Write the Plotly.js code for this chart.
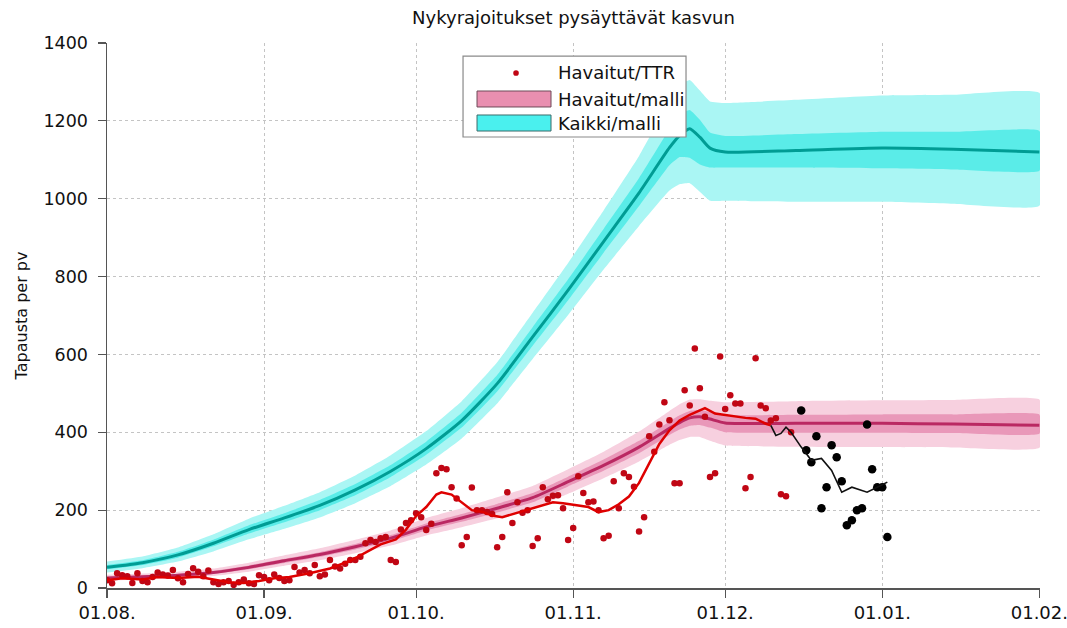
<!DOCTYPE html>
<html><head><meta charset="utf-8">
<script src="https://cdn.plot.ly/plotly-3.0.1.min.js"></script>
<style>html,body{margin:0;padding:0;background:#fff}#chart{width:1067px;height:628px}</style>
</head><body><div id="chart"></div>
<script>
// ---------- model knots ----------
const modelDates = ['2020-08-01','2020-08-08','2020-08-15','2020-08-22','2020-08-29','2020-09-05','2020-09-12','2020-09-19','2020-09-26','2020-10-03','2020-10-10','2020-10-17','2020-10-24','2020-10-31','2020-11-07','2020-11-14','2020-11-20','2020-11-22','2020-11-24','2020-11-26','2020-11-28','2020-12-01','2020-12-15','2021-01-01','2021-01-15','2021-02-01'];

// Kaikki/malli (all cases, model)
const allCenter = [53,65,85,115,150,180,212,252,300,358,430,525,645,765,890,1015,1131,1162,1180,1158,1130,1120,1124,1130,1127,1120];
const allInHi   = [59,71,93,124,161,192,226,267,316,376,450,547,670,793,922,1053,1179,1217,1228,1203,1170,1161,1166,1172,1172,1174];
const allInLo   = [48,59,78,107,140,169,200,238,285,342,412,505,622,739,861,981,1086,1107,1105,1088,1080,1080,1080,1078,1075,1072];
const allOutHi  = [68,81,104,138,178,211,246,289,341,403,480,580,707,835,970,1110,1251,1292,1305,1278,1250,1246,1254,1265,1267,1272];
const allOutLo  = [40,51,68,94,125,152,181,218,262,317,384,474,588,701,818,930,1021,1037,1040,1018,995,995,992,992,987,982];

// Havaitut/malli (observed cases, model)
const obsCenter = [26,29,33,40,53,70,86,106,128,157,180,205,232,273,315,362,410,425,437,440,434,424,423,423,421,418];
const obsInHi   = [29,32,36,44,58,75,92,113,136,166,190,216,244,286,330,378,428,444,455,458,452,444,445,446,446,446];
const obsInLo   = [23,26,30,36,48,64,80,99,120,148,170,194,220,261,301,346,393,407,417,419,412,400,399,399,398,396];
const obsOutHi  = [34,37,42,50,65,84,102,124,148,180,205,233,262,305,350,402,455,472,484,485,481,477,480,482,483,484];
const obsOutLo  = [19,22,25,31,42,57,71,89,109,135,156,179,204,242,282,325,368,380,388,388,378,366,363,362,361,360];

// ---------- daily observations (Havaitut/TTR) ----------
const redStart = '2020-08-01';
const redDaily = [20,12,38,33,30,13,38, 18,15,28,40,35,32,46, 25,15,36,51,42,30,45,
  15,10,15,18,8,15,22, 12,10,33,28,20,35,26, 18,20,54,40,46,38,59, 30,35,72,55,50,62,72,
  72,80,115,123,118,128,131, 72,67,150,167,174,192,182, 149,165,295,308,305,259,230,
  110,131,258,200,200,195,190, 105,131,246,167,220,193,200, 108,128,259,228,237,238,205,
  123,154,287,244,220,222,200, 128,134,274,205,295,285,260, 145,182,390,350,420,477,431,
  269,269,508,469,615,513,440, 285,295,595,460,495,474,474, 256,285,590,469,462,430,436,
  241,236,400];
const blackStart = '2020-12-16';
const blackDaily = [456,354,323,390,205,259,367,336,274,161,174,200,205,420,305,259,259,131];

// smoothed observed lines
const redLineDates = ['2020-08-01','2020-08-04','2020-08-08','2020-08-11','2020-08-15','2020-08-19','2020-08-22','2020-08-25','2020-08-28','2020-08-31','2020-09-03','2020-09-06','2020-09-10','2020-09-14','2020-09-18','2020-09-21','2020-09-24','2020-09-27','2020-09-29','2020-10-01','2020-10-03','2020-10-05','2020-10-06','2020-10-08','2020-10-10','2020-10-12','2020-10-14','2020-10-16','2020-10-18','2020-10-20','2020-10-23','2020-10-26','2020-10-28','2020-10-30','2020-11-02','2020-11-04','2020-11-06','2020-11-08','2020-11-10','2020-11-12','2020-11-14','2020-11-16','2020-11-18','2020-11-20','2020-11-22','2020-11-24','2020-11-26','2020-11-27','2020-11-29','2020-12-01','2020-12-03','2020-12-05','2020-12-07','2020-12-09','2020-12-10'];
const redLine = [20,25,22,28,26,29,22,15,13,18,25,28,38,50,70,92,112,125,150,185,208,240,246,240,220,200,196,186,182,190,202,212,220,218,212,208,195,200,215,235,270,318,370,405,430,445,455,462,448,444,440,437,435,422,418];
const blackLineDates = ['2020-12-10','2020-12-11','2020-12-12','2020-12-13','2020-12-14','2020-12-16','2020-12-18','2020-12-20','2020-12-22','2020-12-24','2020-12-26','2020-12-29','2020-12-31','2021-01-02'];
const blackLine = [418,392,397,413,400,362,328,333,302,246,259,246,259,272];

// ---------- helpers ----------
function dailyDates(start, n){
  const t0 = new Date(start + 'T00:00:00Z').getTime();
  const out = [];
  for (let i = 0; i < n; i++) out.push(new Date(t0 + i*86400000).toISOString().slice(0,10));
  return out;
}
function band(dates, hi, lo, color){
  return {x: dates.concat(dates.slice().reverse()), y: hi.concat(lo.slice().reverse()),
    type:'scatter', mode:'lines', fill:'toself', fillcolor:color,
    line:{width:0, shape:'spline', smoothing:0.35}, hoverinfo:'skip'};
}

const cyanOut='rgb(170,246,244)', cyanIn='rgb(90,236,232)', cyanLine='rgb(0,156,148)';
const pinkOut='rgb(247,208,223)', pinkIn='rgb(233,152,185)', pinkLine='rgb(186,40,98)';

const traces = [
  band(modelDates, allOutHi, allOutLo, cyanOut),
  band(modelDates, allInHi, allInLo, cyanIn),
  {x:modelDates, y:allCenter, type:'scatter', mode:'lines', line:{color:cyanLine, width:3, shape:'spline', smoothing:0.6}},
  band(modelDates, obsOutHi, obsOutLo, pinkOut),
  band(modelDates, obsInHi, obsInLo, pinkIn),
  {x:modelDates, y:obsCenter, type:'scatter', mode:'lines', line:{color:pinkLine, width:3, shape:'spline', smoothing:0.6}},
  {x:dailyDates(redStart, redDaily.length), y:redDaily, type:'scatter', mode:'markers',
    marker:{color:'rgb(192,6,20)', size:6.5, line:{width:0}}},
  {x:redLineDates, y:redLine, type:'scatter', mode:'lines', line:{color:'rgb(222,0,0)', width:2.5}},
  {x:dailyDates(blackStart, blackDaily.length), y:blackDaily, type:'scatter', mode:'markers',
    marker:{color:'#000', size:8.5, line:{width:0}}},
  {x:blackLineDates, y:blackLine, type:'scatter', mode:'lines', line:{color:'#111', width:1.6}}
];

// ---------- manual legend ----------
const shapes = [
  {type:'rect', xref:'paper', yref:'paper', x0:0.3816, x1:0.6206, y0:0.8275, y1:0.9761, fillcolor:'#fff', line:{color:'#8a8a8a', width:1.2}, layer:'above'},
  {type:'circle', xref:'paper', yref:'paper', x0:0.4384-0.0030, x1:0.4384+0.0030, y0:0.9450-0.0052, y1:0.9450+0.0052, fillcolor:'rgb(192,6,20)', line:{width:0}, layer:'above'},
  {type:'rect', xref:'paper', yref:'paper', x0:0.3966, x1:0.4759, y0:0.8826, y1:0.9119, fillcolor:'rgb(233,143,176)', line:{color:'#6e4a58', width:1}, layer:'above'},
  {type:'rect', xref:'paper', yref:'paper', x0:0.3966, x1:0.4759, y0:0.8385, y1:0.8679, fillcolor:'rgb(74,240,238)', line:{color:'#3d6b6b', width:1}, layer:'above'}
];
const legendLabels = ['Havaitut/TTR','Havaitut/malli','Kaikki/malli'];
const legendY = [0.9450, 0.8972, 0.8532];
const annotations = legendLabels.map((t,i)=>({xref:'paper', yref:'paper', x:0.4810, y:legendY[i], xanchor:'left', yanchor:'middle',
  text:t, showarrow:false, font:{size:18, color:'#111', family:'DejaVu Sans, sans-serif'}}));

const layout = {
  width:1067, height:628,
  margin:{l:107, r:27, t:43, b:40},
  paper_bgcolor:'#fff', plot_bgcolor:'#fff',
  showlegend:false,
  font:{family:'DejaVu Sans, sans-serif', color:'#1a1a1a'},
  title:{text:'Nykyrajoitukset pysäyttävät kasvun', x:0.5375, xref:'container', y:1-18/628, yref:'container', yanchor:'middle', font:{size:18, color:'#111'}},
  xaxis:{type:'date', range:['2020-08-01','2021-02-01 03:00'], tick0:'2020-08-01', dtick:'M1', tickformat:'%d.%m.',
    ticklabeloverflow:'allow',
    showgrid:true, gridcolor:'#c4c4c4', griddash:'dot', gridwidth:1,
    showline:true, linecolor:'#555', linewidth:1.5, ticks:'outside', ticklen:8, tickcolor:'#555', tickwidth:1.2,
    tickfont:{size:18, color:'#111'}, zeroline:false, fixedrange:true},
  yaxis:{range:[0,1400], tick0:0, dtick:200,
    showgrid:true, gridcolor:'#c4c4c4', griddash:'dot', gridwidth:1,
    showline:true, linecolor:'#555', linewidth:1.5, ticks:'outside', ticklen:8, tickcolor:'#555', tickwidth:1.2,
    ticklabelstandoff:6,
    tickfont:{size:17.5, color:'#111'}, zeroline:false, fixedrange:true,
    title:{text:'Tapausta per pv', font:{size:16, color:'#111'}, standoff:12}},
  shapes:shapes, annotations:annotations
};

Plotly.newPlot('chart', traces, layout, {staticPlot:true, displayModeBar:false});
</script>
</body></html>
